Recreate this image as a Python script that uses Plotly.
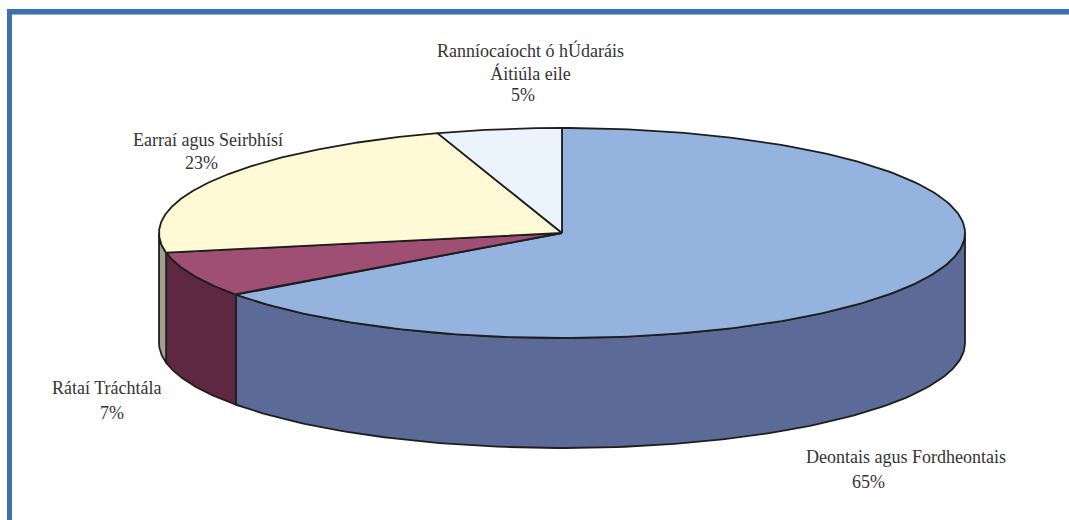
import numpy as np
import plotly.graph_objects as go

# ---- data ----
categories = ["Deontais agus Fordheontais", "Rátaí Tráchtála", "Earraí agus Seirbhísí",
              "Ranníocaíocht ó hÚdaráis<br>Áitiúla eile"]
values = [65, 7, 23, 5]
pct_labels = ["65%", "7%", "23%", "5%"]

# ---- style ----
top_colors = ["#95B3DF", "#9E4F73", "#FFF9D5", "#EBF4FD"]
side_colors = ["#5B6A97", "#5E2843", "#A2A08C", "#B4BCC6"]
edge = "#1E1E1E"
text_color = "#333333"
font_family = "Times New Roman, Liberation Serif, DejaVu Serif, serif"

W, H = 1069, 520
cx, cy, rx, ry, depth = 562, 233, 403, 105, 110

# label placement (pixel centres)
name_pos = [(906, 457), (106, 388), (208, 140), (530, 61.5)]
pct_pos = [(868, 482), (112, 413), (201, 163), (523, 95)]

fig = go.Figure()

def pt(theta_deg, dy=0.0):
    t = np.radians(theta_deg)
    return cx + rx * np.cos(t), cy - ry * np.sin(t) + dy

# slice angle ranges: start at 12 o'clock, going clockwise
total = float(sum(values))
starts, ends = [], []
a = 90.0
for v in values:
    b = a - 360.0 * v / total
    starts.append(a)
    ends.append(b)
    a = b

# side faces (front half: 180..360 deg)
for i, (a, b) in enumerate(zip(starts, ends)):
    lo, hi = b % 360, (b % 360) + (a - b)
    for off in (0, 360, -360):
        s0, s1 = max(lo + off, 180), min(hi + off, 360)
        if s1 > s0:
            th = np.linspace(s0, s1, 120)
            xt, yt = pt(th)
            xb, yb = pt(th[::-1], depth)
            xs = np.concatenate([xt, xb, xt[:1]])
            ys = np.concatenate([yt, yb, yt[:1]])
            fig.add_trace(go.Scatter(x=xs, y=ys, mode="lines", fill="toself",
                                     fillcolor=side_colors[i],
                                     line=dict(color=edge, width=1.8),
                                     hoverinfo="skip", showlegend=False))

# top faces
for i, (a, b) in enumerate(zip(starts, ends)):
    th = np.linspace(a, b, 200)
    xa, ya = pt(th)
    xs = np.concatenate([[cx], xa, [cx]])
    ys = np.concatenate([[cy], ya, [cy]])
    fig.add_trace(go.Scatter(x=xs, y=ys, mode="lines", fill="toself",
                             fillcolor=top_colors[i],
                             line=dict(color=edge, width=1.8),
                             hoverinfo="skip", showlegend=False))

# labels
for i in range(len(values)):
    fig.add_annotation(x=name_pos[i][0], y=name_pos[i][1], text=categories[i],
                       showarrow=False, xanchor="center", yanchor="middle",
                       font=dict(family=font_family, size=18, color=text_color))
    fig.add_annotation(x=pct_pos[i][0], y=pct_pos[i][1], text=pct_labels[i],
                       showarrow=False, xanchor="center", yanchor="middle",
                       font=dict(family=font_family, size=18, color=text_color))

# frame (top and left blue border)
fig.add_shape(type="rect", x0=7, x1=W, y0=9, y1=14, fillcolor="#3B72A9", line_width=0, layer="above")
fig.add_shape(type="rect", x0=12, x1=W, y0=14, y1=15, fillcolor="#8DB0D5", line_width=0, layer="above")
fig.add_shape(type="rect", x0=7, x1=12, y0=9, y1=H, fillcolor="#3B72A9", line_width=0, layer="above")

fig.update_xaxes(range=[0, W], visible=False, fixedrange=True)
fig.update_yaxes(range=[H, 0], visible=False, fixedrange=True)
fig.update_layout(width=W, height=H, margin=dict(l=0, r=0, t=0, b=0),
                  paper_bgcolor="white", plot_bgcolor="white", showlegend=False,
                  font=dict(family=font_family))

fig.write_html("out.html", config={"displayModeBar": False},
               post_script="document.body.style.margin='0';")
